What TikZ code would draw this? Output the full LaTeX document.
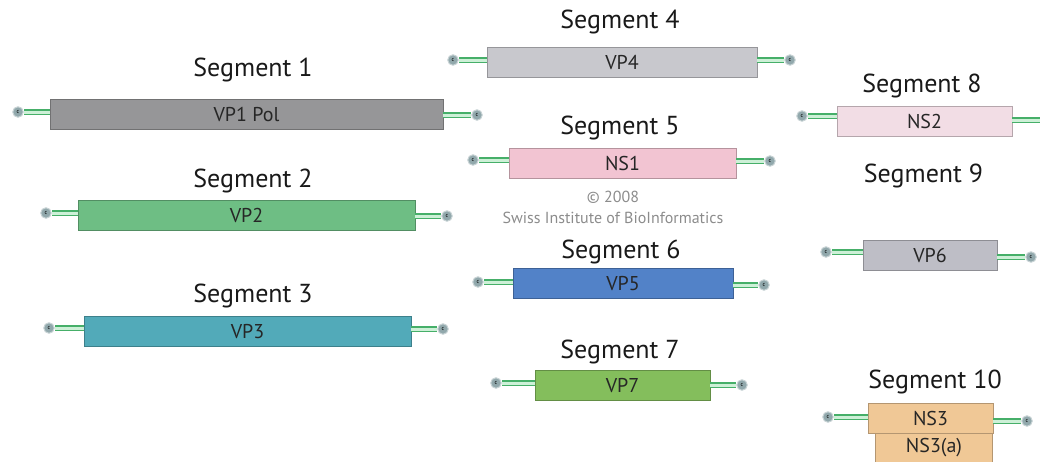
\documentclass[tikz,border=0pt]{standalone}
\usepackage{fontspec}
\setmainfont{PT Sans}
\definecolor{cVPone}{RGB}{150,150,152}
\definecolor{cVPtwo}{RGB}{110,190,132}
\definecolor{cVPthree}{RGB}{82,170,185}
\definecolor{cVPfour}{RGB}{200,200,205}
\definecolor{cNSone}{RGB}{242,196,210}
\definecolor{cVPfive}{RGB}{82,130,200}
\definecolor{cVPseven}{RGB}{132,190,92}
\definecolor{cNStwo}{RGB}{242,221,229}
\definecolor{cVPsix}{RGB}{190,190,198}
\definecolor{cNSthree}{RGB}{240,200,150}
\definecolor{cLine}{RGB}{70,175,105}
\definecolor{cLineIn}{RGB}{205,240,215}
\definecolor{cEnd}{RGB}{145,168,172}
\begin{document}
\begin{tikzpicture}[x=1pt, y=-1pt,
  gene/.style={draw=#1!75!black, fill=#1, minimum height=30pt, inner sep=0pt, text=black!85, font=\fontsize{20}{20}\selectfont},
  segtitle/.style={font=\fontsize{26}{26}\selectfont, text=black!90, inner sep=0pt},
  endcirc/.style={circle, fill=cEnd, draw=cEnd!50!white, line width=1pt, minimum size=10.5pt, inner sep=0pt, font=\fontsize{6}{6}\selectfont},
  dsline/.style={draw=cLine, double=cLineIn, double distance=3pt, line width=1.8pt}]
\useasboundingbox (0,0) rectangle (1040,461);
% segments 1-3
\node[segtitle] (t1) at (253,70) {Segment 1};
\node[gene=cVPone, minimum width=393pt] (vp1) at (246.5,114) {VP1 Pol};
\node[endcirc] (e1l) at (18,112) {c};
\node[endcirc] (e1r) at (477,115) {c};
\node[segtitle] (t2) at (253,181) {Segment 2};
\node[gene=cVPtwo, minimum width=337pt] (vp2) at (246.5,215) {VP2};
\node[endcirc] (e2l) at (46,213) {c};
\node[endcirc] (e2r) at (447,216) {c};
\node[segtitle] (t3) at (253,296) {Segment 3};
\node[gene=cVPthree, minimum width=327pt] (vp3) at (247.5,331.5) {VP3};
\node[endcirc] (e3l) at (49,328) {c};
\node[endcirc] (e3r) at (443,329) {c};
% segments 4-7
\node[segtitle] (t4) at (620,22) {Segment 4};
\node[gene=cVPfour, minimum width=270pt] (vp4) at (622,62) {VP4};
\node[endcirc] (e4l) at (453,60) {c};
\node[endcirc] (e4r) at (790,60) {c};
\node[segtitle] (t5) at (620,128) {Segment 5};
\node[gene=cNSone, minimum width=227pt] (ns1) at (622.5,163) {NS1};
\node[endcirc] (e5l) at (473,160) {c};
\node[endcirc] (e5r) at (770,161) {c};
\node[text=black!45, font=\fontsize{16}{16}\selectfont, inner sep=0pt] (copy) at (613,197) {© 2008};
\node[text=black!45, font=\fontsize{16}{16}\selectfont, inner sep=0pt] (sib) at (613,218) {Swiss Institute of BioInformatics};
\node[segtitle] (t6) at (621,252) {Segment 6};
\node[gene=cVPfive, minimum width=220pt] (vp5) at (623,283.5) {VP5};
\node[endcirc] (e6l) at (478,282) {c};
\node[endcirc] (e6r) at (764,285) {c};
\node[segtitle] (t7) at (620,352) {Segment 7};
\node[gene=cVPseven, minimum width=175pt] (vp7) at (622.5,385.5) {VP7};
\node[endcirc] (e7l) at (496,383) {c};
\node[endcirc] (e7r) at (742,385) {c};
% segments 8-10
\node[segtitle] (t8) at (922,86) {Segment 8};
\node[gene=cNStwo, minimum width=175pt] (ns2) at (924.5,121) {NS2};
\node[endcirc] (e8l) at (802,116) {c};
\coordinate (e8r) at (1044,120);
\node[segtitle] (t9) at (923.5,176) {Segment 9};
\node[gene=cVPsix, minimum width=134pt] (vp6) at (930,255) {VP6};
\node[endcirc] (e9l) at (826,252) {c};
\node[endcirc] (e9r) at (1031,257) {c};
\node[segtitle] (t10) at (935,382) {Segment 10};
\node[gene=cNSthree, minimum width=117pt] (ns3a) at (934,448) {NS3(a)};
\node[gene=cNSthree, minimum width=125pt] (ns3) at (930.5,418) {NS3};
\node[endcirc] (e10l) at (828,417) {c};
\node[endcirc] (e10r) at (1027,421) {c};
% connectors
\foreach \a/\b in {e1l/vp1, e2l/vp2, e3l/vp3, e4l/vp4, e5l/ns1, e6l/vp5, e7l/vp7, e8l/ns2, e9l/vp6, e10l/ns3}
  \draw[dsline] (\a.east) -- (\a -| \b.west);
\foreach \a/\b in {e1r/vp1, e2r/vp2, e3r/vp3, e4r/vp4, e5r/ns1, e6r/vp5, e7r/vp7, e9r/vp6, e10r/ns3}
  \draw[dsline] (\a.west) -- (\a -| \b.east);
\draw[dsline] (e8r) -- (e8r -| ns2.east);
\end{tikzpicture}
\end{document}
